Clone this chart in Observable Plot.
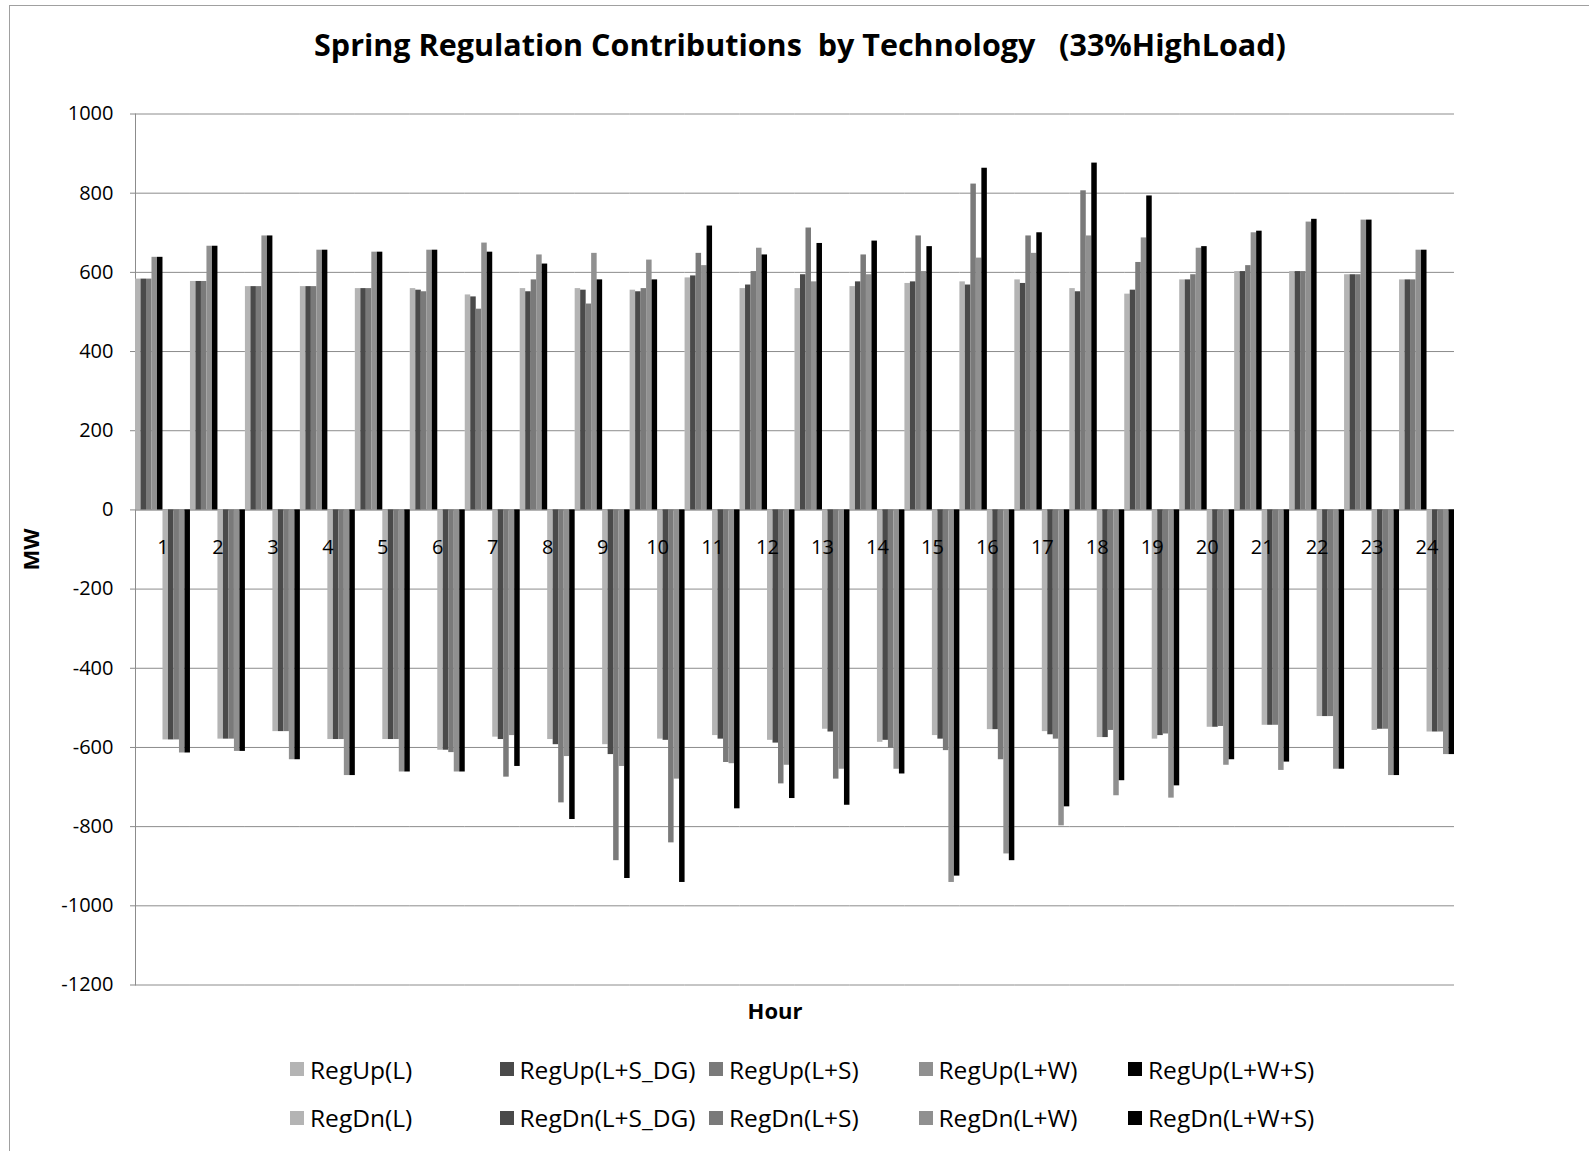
<!DOCTYPE html>
<html>
<head>
<meta charset="utf-8">
<script src="https://cdn.jsdelivr.net/npm/d3@7"></script>
<script src="https://cdn.jsdelivr.net/npm/@observablehq/plot@0.6"></script>
<style>
  html, body { margin: 0; padding: 0; background: #fff; }
  #chart { position: relative; width: 1589px; height: 1151px; overflow: hidden; font-family: "Open Sans", sans-serif; color: #000; }
  #border { position: absolute; left: 9px; top: 5px; width: 1600px; height: 1170px; border: 1px solid #a0a0a0; box-sizing: border-box; }
  #title { position: absolute; left: 0; top: 22px; width: 1600px; height: 44px; line-height: 44px; text-align: center; font-weight: bold; font-size: 30.5px; white-space: pre; }
  #plot { position: absolute; left: 0; top: 80px; }
  #legend { position: absolute; left: 290px; top: 1045px; display: grid; grid-template-columns: repeat(5, 209.5px); grid-auto-rows: 48.5px; font-size: 24.5px; }
  #legend .item { display: flex; align-items: center; white-space: nowrap; }
  #legend .sw { width: 14px; height: 14px; margin-right: 6px; flex: none; }
  [aria-label="y-axis label"] text, [aria-label="y-axis label"] { font-weight: bold; font-size: 22px; }
  [aria-label="y-axis tick"] path, [aria-label="y-axis tick"] { stroke: #888; }
</style>
</head>
<body>
<div id="chart">
  <div id="border"></div>
  <div id="title"></div>
  <div id="plot"></div>
  <div id="legend"></div>
</div>
<script>
const titleText = "Spring Regulation Contributions  by Technology   (33%HighLoad)";
const hours = [1,2,3,4,5,6,7,8,9,10,11,12,13,14,15,16,17,18,19,20,21,22,23,24];
const seriesNames = ["RegUp(L)","RegUp(L+S_DG)","RegUp(L+S)","RegUp(L+W)","RegUp(L+W+S)",
                     "RegDn(L)","RegDn(L+S_DG)","RegDn(L+S)","RegDn(L+W)","RegDn(L+W+S)"];
const seriesColors = ["#b4b4b4","#4a4a4a","#7a7a7a","#909090","#000000",
                      "#b4b4b4","#4a4a4a","#7a7a7a","#909090","#000000"];
const yTicks = [-1200,-1000,-800,-600,-400,-200,0,200,400,600,800,1000];

const regUpL     = [583,577,564,564,559,559,543,559,559,555,586,559,559,564,572,576,581,559,545,581,602,602,594,581];
const regUpLSDG  = [583,577,564,564,559,555,538,551,555,551,591,568,594,576,576,568,572,551,555,581,602,602,594,581];
const regUpLS    = [583,577,564,564,559,551,507,581,520,559,648,602,712,644,692,823,692,806,625,594,617,602,594,581];
const regUpLW    = [638,666,692,656,651,656,674,644,648,631,617,661,576,594,602,636,648,692,687,661,700,727,732,656];
const regUpLWS   = [638,666,692,656,651,656,651,621,581,581,717,644,673,679,665,863,700,876,793,665,704,734,732,656];
const regDnL     = [-581,-579,-560,-580,-580,-607,-574,-580,-593,-579,-570,-582,-554,-587,-570,-555,-560,-575,-579,-549,-544,-522,-557,-561];
const regDnLSDG  = [-581,-579,-560,-580,-580,-607,-580,-593,-618,-582,-579,-589,-561,-582,-579,-555,-568,-575,-570,-549,-544,-522,-554,-561];
const regDnLS    = [-581,-579,-560,-580,-580,-613,-675,-740,-886,-841,-638,-692,-680,-602,-608,-631,-579,-557,-566,-547,-544,-522,-554,-561];
const regDnLW    = [-614,-610,-631,-671,-662,-662,-570,-623,-648,-680,-641,-645,-655,-655,-941,-869,-798,-722,-728,-645,-658,-655,-671,-618];
const regDnLWS   = [-614,-610,-631,-671,-662,-662,-648,-782,-931,-941,-755,-729,-746,-667,-925,-886,-750,-684,-697,-631,-637,-655,-671,-618];

const seriesValues = [regUpL, regUpLSDG, regUpLS, regUpLW, regUpLWS, regDnL, regDnLSDG, regDnLS, regDnLW, regDnLWS];
const rows = [];
seriesNames.forEach((s, i) => hours.forEach((h, j) => rows.push({hour: h, series: s, value: seriesValues[i][j]})));

document.getElementById("title").textContent = titleText;

const plot = Plot.plot({
  width: 1589,
  height: 960,
  marginTop: 33.5,
  marginBottom: 55.5,
  marginLeft: 135,
  marginRight: 135,
  style: {fontFamily: "Open Sans, sans-serif", fontSize: "20px", color: "#000", background: "transparent"},
  fx: {domain: hours, padding: 0, round: false, axis: null},
  x: {domain: seriesNames, padding: 0, round: false, axis: null},
  y: {domain: [-1200, 1000], label: "MW"},
  color: {domain: seriesNames, range: seriesColors},
  marks: [
    Plot.gridY(yTicks, {stroke: "#8c8c8c", strokeOpacity: 1}),
    Plot.ruleY([0], {stroke: "#8c8c8c"}),
    Plot.frame({anchor: "left", facet: "super", stroke: "#8c8c8c"}),
    Plot.barY(rows, {fx: "hour", x: "series", y: "value", fill: "series"}),
    Plot.text(hours, {fx: d => d, y: 0, text: d => String(d), dy: 38, fontSize: 20, fill: "#000"}),
    Plot.axisY({ticks: yTicks, tickFormat: d => String(d), tickSize: 5, tickPadding: 17, fontSize: 20,
                label: "MW", labelArrow: "none", labelAnchor: "center", labelOffset: 112}),
    Plot.text(["Hour"], {frameAnchor: "bottom", facet: "super", dy: 34, dx: -20, fontSize: 22, fontWeight: "bold", fill: "#000"})
  ]
});
document.getElementById("plot").appendChild(plot);

const legend = document.getElementById("legend");
seriesNames.forEach((name, i) => {
  const item = document.createElement("div");
  item.className = "item";
  const sw = document.createElement("span");
  sw.className = "sw";
  sw.style.background = seriesColors[i];
  const t = document.createElement("span");
  t.textContent = name;
  item.appendChild(sw);
  item.appendChild(t);
  legend.appendChild(item);
});
</script>
</body>
</html>
